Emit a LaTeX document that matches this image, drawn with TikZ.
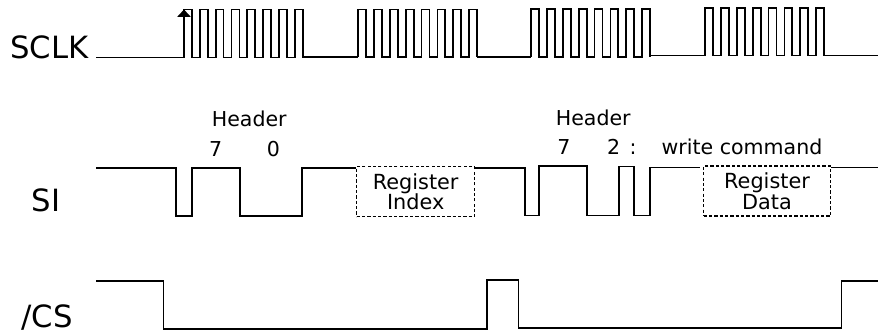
\documentclass[tikz,border=0pt]{standalone}
\usepackage{fontspec}
\setmainfont{DejaVu Sans}
\usepackage{xcolor}
\usetikzlibrary{arrows.meta, positioning}
\tikzset{
    wave/.style={
        line width=1.3pt,
        draw=black,
        line join=miter
    },
    signame/.style={
        anchor=base,
        inner sep=0pt,
        font=\fontsize{23}{27}\selectfont
    },
    bitlabel/.style={
        anchor=base,
        inner sep=0pt,
        font=\fontsize{15.4}{16.5}\selectfont
    },
    regbox/.style={
        rectangle,
        draw=black,
        line width=1.1pt,
        dash pattern=on 2.4pt off 1.6pt,
        align=center,
        inner sep=0pt,
        minimum height=37.5pt,
        font=\fontsize{15.6}{16.5}\selectfont
    },
    edgetip/.style={
        -{Triangle[length=5.6pt, width=10pt]},
        line width=1.3pt,
        draw=black
    }
}
\begin{document}
\begin{tikzpicture}[x=0.75pt, y=-0.75pt]
    \useasboundingbox (0,0) rectangle (878,333);

    % signal names
    \node[signame] (sclk) at (49.5,58.3) {SCLK};
    \node[signame] (si) at (46,211.7) {SI};
    \node[signame] (cs) at (47,327) {/CS};

    % SCLK bursts
    \foreach \xs/\yh/\yl in {184/9.5/57.5, 358.3/9.4/57.3, 531.3/9/56.7, 705.3/8/55.5}
        \draw[wave] (\xs,\yl) \foreach \i in {0,...,7} {
            -- (\xs+\i*15.83,\yl) -- (\xs+\i*15.83,\yh)
            -- (\xs+\i*15.83+7.9,\yh) -- (\xs+\i*15.83+7.9,\yl)
        };
    \draw[wave] (96,57.5) -- (184,57.5);
    \draw[wave] (302.7,57.3) -- (358.3,57.3);
    \draw[wave] (476.8,56.7) -- (531.3,56.7);
    \draw[wave] (650,55.5) -- (705.3,55.5);
    \draw[wave] (824,55.5) -- (878,55.5);
    \draw[edgetip] (184,24) -- (184,9.5);

    % SI
    \node[regbox, minimum width=88.5pt] (index) at (415.7,191.7) {Register\\[-1pt]Index};
    \node[regbox, minimum width=95pt] (data) at (767,191.2) {Register\\[-1pt]Data};
    \draw[wave] (96,167.7) -- (175.7,167.7) -- (175.7,215.7) -- (192.3,215.7) -- (192.3,168)
        -- (239.7,168) -- (239.7,216) -- (302.3,216) -- (302.3,168) -- (index.west |- 0,168);
    \draw[wave] (index.east |- 0,167.7) -- (524.7,167.7) -- (524.7,215.5) -- (538.7,215.5) -- (538.7,166)
        -- (586.7,166) -- (586.7,215.5) -- (618.7,215.5) -- (618.7,166.5) -- (634,166.5)
        -- (634,215.5) -- (650,215.5) -- (650,167.5) -- (699.7,167.5);
    \draw[wave] (data.east |- 0,167.5) -- (878,167.5);

    % header bits
    \node[bitlabel] (hdra) at (249.3,126) {Header};
    \node[bitlabel] (bita7) at (215.7,156.7) {7};
    \node[bitlabel] (bita0) at (273.3,156.7) {0};
    \node[bitlabel] (hdrb) at (593.3,125.7) {Header};
    \node[bitlabel] (bitb7) at (564,154.7) {7};
    \node[bitlabel] (bitb2) at (613.7,154.7) {2};
    \node[bitlabel] (colon) at (633,154.7) {:};
    \node[bitlabel] (wrcmd) at (742,154.7) {write command};

    % /CS
    \draw[wave] (96,280.7) -- (163.5,280.7) -- (163.5,328.7) -- (487,328.7) -- (487,280.3)
        -- (518.5,280.3) -- (518.5,328) -- (841.5,328) -- (841.5,280.7) -- (878,280.7);
\end{tikzpicture}
\end{document}
